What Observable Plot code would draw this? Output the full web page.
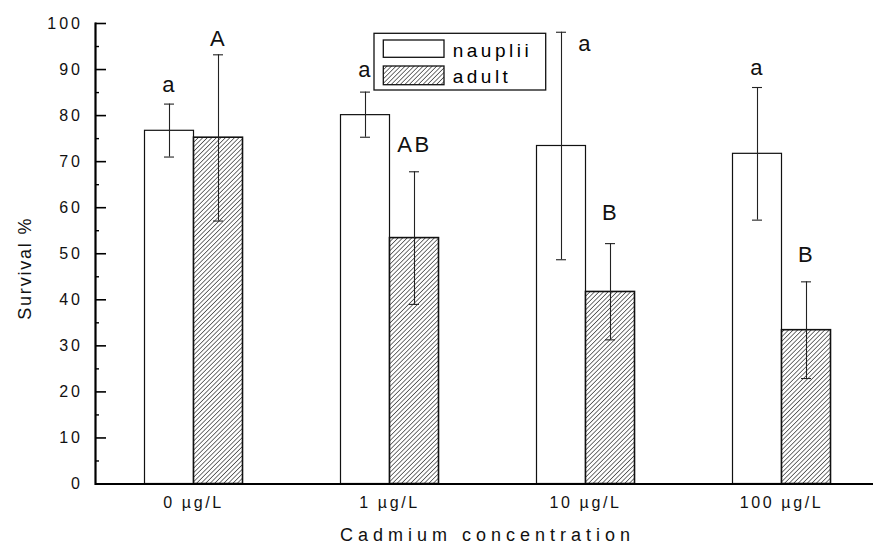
<!DOCTYPE html>
<html>
<head>
<meta charset="utf-8">
<script src="https://cdn.jsdelivr.net/npm/d3@7"></script>
<script src="https://cdn.jsdelivr.net/npm/@observablehq/plot@0.6"></script>
<style>
html, body { margin: 0; padding: 0; background: #fff; }
#wrap { position: relative; width: 873px; height: 547px; overflow: hidden; font-family: "Liberation Sans", Arial, sans-serif; }
#wrap svg { font-family: "Liberation Sans", Arial, sans-serif; }
#wrap > svg.chart { max-width: none !important; width: 880px !important; height: 547px !important; }
g[aria-label="y-axis tick label"] text { letter-spacing: 3px; }
g[aria-label="fx-axis tick label"] text { letter-spacing: 2.6px; }
g[aria-label="fx-axis label"] text { font-size: 18px; letter-spacing: 5px; }
#legend { position: absolute; left: 0; top: 0; pointer-events: none; }
#legend text { font-size: 19px; letter-spacing: 3.5px; fill: #000; }
</style>
</head>
<body>
<div id="wrap">
<svg id="legend" width="873" height="547">
  <defs>
    <pattern id="hatch" patternUnits="userSpaceOnUse" width="3.2" height="3.2" patternTransform="rotate(45)">
      <rect width="3.2" height="3.2" fill="#fff"></rect>
      <line x1="0" y1="0" x2="0" y2="3.2" stroke="#000" stroke-width="1.1"></line>
    </pattern>
  </defs>
  <rect x="374" y="33.3" width="171.7" height="56.7" fill="#fff" stroke="#111" stroke-width="1.3"></rect>
  <rect x="383.3" y="40" width="60.7" height="17.3" fill="#fff" stroke="#111" stroke-width="1.3"></rect>
  <rect x="383.3" y="66" width="60.7" height="18.7" fill="url(#hatch)" stroke="#111" stroke-width="1.3"></rect>
  <text x="452.7" y="57.3">nauplii</text>
  <text x="452.7" y="82.7">adult</text>
</svg>
</div>
<script>
// ---- data ----
const categories = ["0 µg/L", "1 µg/L", "10 µg/L", "100 µg/L"];
const series = ["nauplii", "adult"];

const naupliiMean = [76.7, 80.1, 73.4, 71.7];
const naupliiLow  = [71.0, 75.3, 48.7, 57.3];
const naupliiHigh = [82.5, 85.1, 98.1, 86.1];

const adultMean = [75.2, 53.4, 41.7, 33.4];
const adultLow  = [57.1, 39.0, 31.3, 22.9];
const adultHigh = [93.2, 67.8, 52.2, 43.9];

const naupliiLetters = ["a", "a", "a", "a"];
const naupliiLetterY = [85.2, 88.3, 94.1, 88.8];
const naupliiLetterCentered = [false, false, true, false];
const adultLetters = ["A", "AB", "B", "B"];
const adultLetterY = [95.2, 72.1, 57.3, 48.2];

const yTicks = [0, 10, 20, 30, 40, 50, 60, 70, 80, 90, 100];
const yMinorTicks = [5, 15, 25, 35, 45, 55, 65, 75, 85, 95];
const yLabel = "Survival %";
const xLabel = "Cadmium concentration";

// ---- tables built from the arrays ----
const nauplii = categories.map((c, i) => ({cat: c, series: "nauplii", mean: naupliiMean[i], low: naupliiLow[i], high: naupliiHigh[i]}));
const adult = categories.map((c, i) => ({cat: c, series: "adult", mean: adultMean[i], low: adultLow[i], high: adultHigh[i]}));
const rows = nauplii.concat(adult);

const letters = [];
categories.forEach((c, i) => {
  letters.push({cat: c, series: "nauplii", label: naupliiLetters[i], y: naupliiLetterY[i], centered: naupliiLetterCentered[i]});
  letters.push({cat: c, series: "adult", label: adultLetters[i], y: adultLetterY[i], centered: false});
});

const chart = Plot.plot({
  className: "chart",
  width: 880,
  height: 547,
  marginLeft: 94.5,
  marginRight: 0.7,
  marginTop: 23,
  marginBottom: 63.5,
  style: {fontFamily: "Liberation Sans, Arial, sans-serif", color: "#000", background: "transparent", overflow: "visible", maxWidth: "none"},
  fx: {domain: categories, padding: 0, label: null},
  x: {domain: series, paddingInner: 0, paddingOuter: 1, axis: null, label: null},
  y: {domain: [0, 100], axis: null, label: null},
  marks: [
    Plot.barY(nauplii, {fx: "cat", x: "series", y: "mean", fill: "white", stroke: "#111", strokeWidth: 1.2}),
    Plot.barY(adult, {fx: "cat", x: "series", y: "mean", fill: "url(#hatch)", stroke: "#111", strokeWidth: 1.6}),
    Plot.ruleX(rows, {fx: "cat", x: "series", y1: "low", y2: "high", stroke: "#222", strokeWidth: 1.1}),
    Plot.tickY(rows, {fx: "cat", x: "series", y: "high", stroke: "#222", strokeWidth: 1.1, insetLeft: 19.5, insetRight: 19.5}),
    Plot.tickY(rows, {fx: "cat", x: "series", y: "low", stroke: "#222", strokeWidth: 1.1, insetLeft: 19.5, insetRight: 19.5}),
    Plot.ruleY([0], {stroke: "#000", strokeWidth: 2.2}),
    Plot.frame({anchor: "left", facetAnchor: "left", stroke: "#000", strokeWidth: 2.2}),
    Plot.axisY(yTicks, {anchor: "left", tickSize: 11, dx: 11, strokeWidth: 1.6, stroke: "#000", fill: "none", label: null}),
    Plot.axisY(yMinorTicks, {anchor: "left", tickSize: 4, dx: 4, strokeWidth: 1.4, stroke: "#000", fill: "none", label: null}),
    Plot.axisY(yTicks, {anchor: "left", tickSize: 0, tickPadding: 12.5, fontSize: 16, fill: "#111", label: null}),
    Plot.axisFx({anchor: "bottom", tickSize: 0, tickPadding: 12.5, fontSize: 16, fill: "#111",
      label: xLabel, labelAnchor: "center", labelOffset: 57}),
    Plot.text([yLabel], {frameAnchor: "left", facetAnchor: "left", textAnchor: "middle", rotate: -90, dx: -64.5, dy: 14.5,
      lineAnchor: "bottom", fontSize: 18, fill: "#111"}),
    Plot.text(letters.filter(d => !d.centered), {fx: "cat", x: "series", y: "y", text: "label",
      lineAnchor: "bottom", fontSize: 22, fill: "#111"}),
    Plot.text(letters.filter(d => d.centered), {fx: "cat", y: "y", text: "label",
      lineAnchor: "bottom", fontSize: 22, fill: "#111"})
  ]
});

// letter spacing for the free texts
const letterSet = new Set(naupliiLetters.concat(adultLetters));
chart.querySelectorAll("text").forEach(t => {
  const s = t.textContent;
  if (s === yLabel) t.style.letterSpacing = "1.8px";
  else if (letterSet.has(s)) t.style.letterSpacing = "2.5px";
});

const wrap = document.getElementById("wrap");
wrap.insertBefore(chart, wrap.firstChild);
</script>
</body>
</html>
